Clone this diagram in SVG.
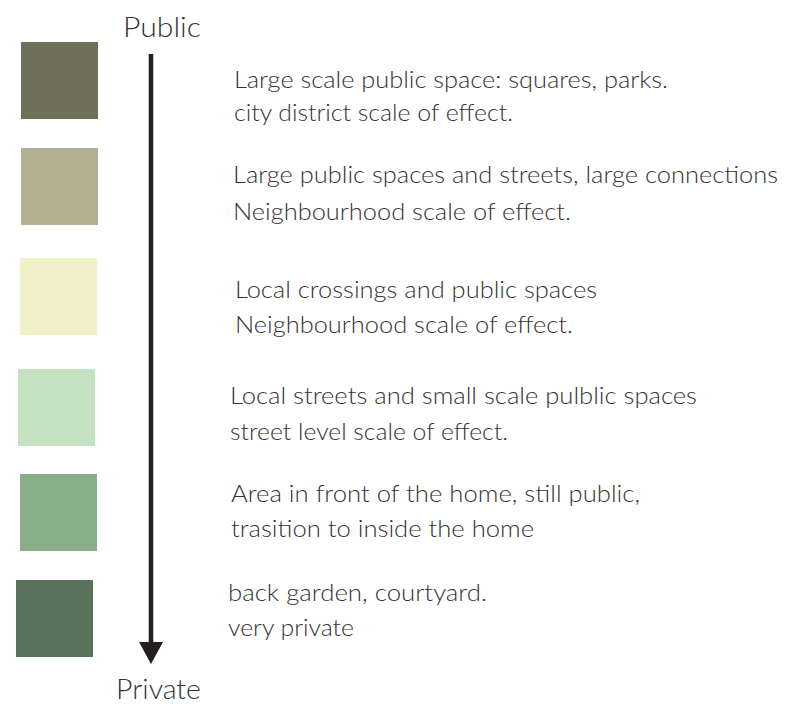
<svg xmlns="http://www.w3.org/2000/svg" width="789" height="707" viewBox="0 0 789 707">
<defs>
<style>
text{font-family:Lato,"Open Sans","Liberation Sans",sans-serif;fill:#333333;font-weight:300;}
.d{font-size:23px;}
.h{font-size:27px;}
</style>
</defs>
<rect width="789" height="707" fill="#ffffff"/>
<g id="connectors">
<line x1="151" y1="54" x2="151" y2="645" stroke="#231f20" stroke-width="4.5"/>
<path d="M139,642 L163,642 L151,664 Z" fill="#231f20"/>
</g>
<g id="public"><text class="h" x="123" y="37" textLength="78" lengthAdjust="spacingAndGlyphs">Public</text></g>
<g id="private"><text class="h" x="116" y="699" textLength="85" lengthAdjust="spacingAndGlyphs">Private</text></g>
<g id="level1">
<rect x="21" y="42" width="77" height="77" fill="#6f705a"/>
<text class="d" x="234" y="88" textLength="434" lengthAdjust="spacingAndGlyphs">Large scale public space: squares, parks.</text>
<text class="d" x="234" y="121" textLength="279" lengthAdjust="spacingAndGlyphs">city district scale of effect.</text>
</g>
<g id="level2">
<rect x="21" y="148" width="77" height="77" fill="#b1b092"/>
<text class="d" x="233" y="183" textLength="545" lengthAdjust="spacingAndGlyphs">Large public spaces and streets, large connections</text>
<text class="d" x="233" y="220" textLength="338" lengthAdjust="spacingAndGlyphs">Neighbourhood scale of effect.</text>
</g>
<g id="level3">
<rect x="20" y="258" width="77" height="77" fill="#f0f1c9"/>
<text class="d" x="235" y="298" textLength="362" lengthAdjust="spacingAndGlyphs">Local crossings and public spaces</text>
<text class="d" x="235" y="333" textLength="338" lengthAdjust="spacingAndGlyphs">Neighbourhood scale of effect.</text>
</g>
<g id="level4">
<rect x="18" y="369" width="77" height="77" fill="#c4e2c2"/>
<text class="d" x="230" y="404" textLength="467" lengthAdjust="spacingAndGlyphs">Local streets and small scale pulblic spaces</text>
<text class="d" x="230" y="440" textLength="278" lengthAdjust="spacingAndGlyphs">street level scale of effect.</text>
</g>
<g id="level5">
<rect x="20" y="474" width="77" height="77" fill="#8aae8a"/>
<text class="d" x="231" y="502" textLength="409" lengthAdjust="spacingAndGlyphs">Area in front of the home, still public,</text>
<text class="d" x="231" y="537" textLength="303" lengthAdjust="spacingAndGlyphs">trasition to inside the home</text>
</g>
<g id="level6">
<rect x="16" y="580" width="77" height="77" fill="#59725b"/>
<text class="d" x="228" y="601" textLength="259" lengthAdjust="spacingAndGlyphs">back garden, courtyard.</text>
<text class="d" x="228" y="636" textLength="126" lengthAdjust="spacingAndGlyphs">very private</text>
</g>
</svg>
